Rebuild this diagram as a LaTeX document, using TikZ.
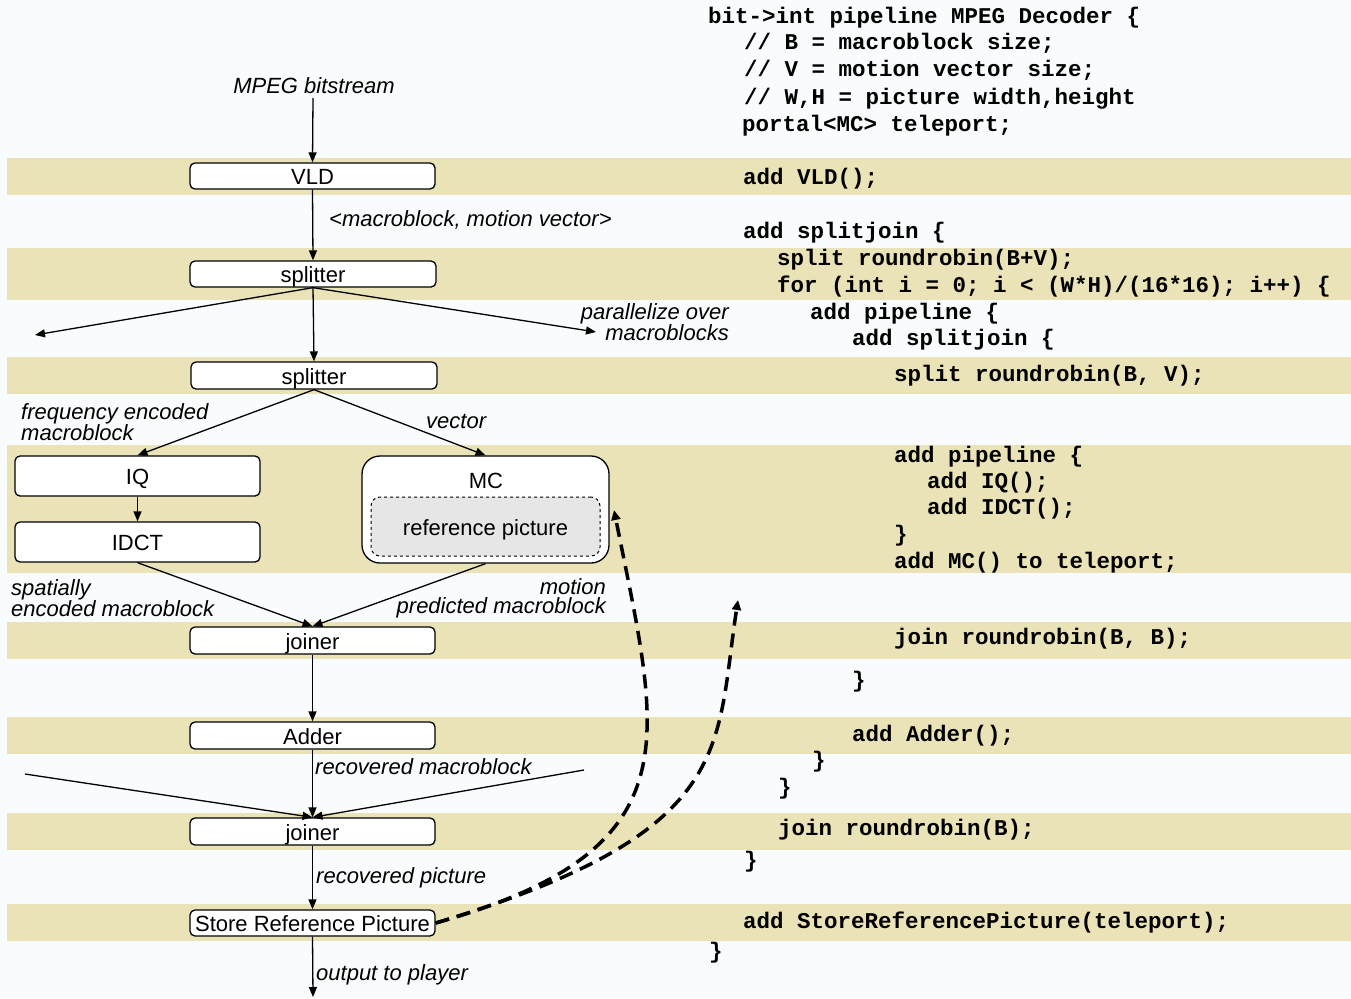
\documentclass[tikz,border=0pt]{standalone}
\usepackage{fontspec}
\setsansfont{Liberation Sans}
\setmonofont{Liberation Mono}
\usetikzlibrary{arrows.meta}
\definecolor{bgc}{RGB}{249,252,253}
\definecolor{band}{RGB}{234,227,184}
\definecolor{refgray}{RGB}{230,230,230}
\tikzset{
  blk/.style={draw, line width=1.3pt, rounded corners=5pt, fill=white, inner sep=0pt,
    minimum width=245pt, minimum height=26pt, text height=19pt, text depth=1.5pt,
    font=\sffamily\fontsize{22}{26}\selectfont},
  lbl/.style={inner sep=0pt, font=\sffamily\itshape\fontsize{22}{19}\selectfont},
  code/.style={inner sep=0pt, anchor=base west, font=\ttfamily\bfseries\fontsize{22.5}{26}\selectfont},
  conn/.style={line width=1.3pt, -{Triangle[length=10pt,width=8pt]}},
  tele/.style={line width=3.5pt, dash pattern=on 14pt off 8pt, -{Triangle[length=10pt,width=9pt]}}
}
\begin{document}
\begin{tikzpicture}[x=1pt,y=-1pt]
\fill[bgc] (0,0) rectangle (1351,998);
\useasboundingbox (0,0) rectangle (1351,998);
% bands
\foreach \a/\b in {158/195,248/300,357/394,445/573,622/659,717/754,813/850,904/941}
  \fill[band] (7,\a) rectangle (1351,\b);
% blocks
\node[blk] (vld) at (312.5,176) {VLD};
\node[blk, minimum width=246pt] (split1) at (313,274) {splitter};
\node[blk, minimum width=246pt, minimum height=27pt] (split2) at (314,375.5) {splitter};
\node[blk, minimum height=40pt] (iq) at (137.5,476) {IQ};
\node[blk, minimum height=40pt] (idct) at (137.5,542) {IDCT};
\node[blk, minimum width=247pt, minimum height=107pt, rounded corners=18pt] (mc) at (485.5,509.5) {};
\node[lbl, font=\sffamily\fontsize{22}{26}\selectfont] (mctext) at (486,481) {MC};
\node[blk, dashed, line width=1pt, fill=refgray, rounded corners=9pt, minimum width=229pt, minimum height=59pt] (ref) at (485.5,526.5) {reference picture};
\node[blk, minimum height=27pt] (join1) at (312.5,640.5) {joiner};
\node[blk, minimum height=27pt] (adder) at (312.5,735.5) {Adder};
\node[blk, minimum height=27pt] (join2) at (312.5,831.5) {joiner};
\node[blk] (store) at (312.5,923) {Store Reference Picture};
% free ends
\coordinate (in) at (313,98);
\coordinate (pl) at (35,335);
\coordinate (pr) at (596,332);
\coordinate (jl) at (25,774);
\coordinate (jr) at (584,770);
\coordinate (out) at (313,997);
\coordinate (mcport) at (614,510);
\coordinate (tport) at (738,600);
% connectors
\draw[conn] (in) -- (vld.north);
\draw[conn] (vld.south) -- (split1.north);
\draw[conn] (split1.south) -- (pl);
\draw[conn] (split1.south) -- (split2.north);
\draw[conn] (split1.south) -- (pr);
\draw[conn] (split2.south) -- (iq.north);
\draw[conn] (split2.south) -- (mc.north);
\draw[conn] (iq.south) -- (idct.north);
\draw[conn] (idct.south) -- (join1.north);
\draw[conn] (mc.south) -- (join1.north);
\draw[conn] (join1.south) -- (adder.north);
\draw[conn] (adder.south) -- (join2.north);
\draw[conn] (jl) -- (join2.north);
\draw[conn] (jr) -- (join2.north);
\draw[conn] (join2.south) -- (store.north);
\draw[conn] (store.south) -- (out);
\draw[tele] (store.east) .. controls (697,849) and (660,740) .. (mcport);
\draw[tele] (store.east) .. controls (737,832) and (715,750) .. (tport);
% labels
\node[lbl] (l1) at (314,86) {MPEG bitstream};
\node[lbl, anchor=west] (l2) at (329,220) {\textless macroblock, motion vector\textgreater};
\node[lbl, anchor=east, align=right] (l3) at (729,322) {parallelize over\\macroblocks};
\node[lbl, anchor=west, align=left] (l4) at (21,422) {frequency encoded\\macroblock};
\node[lbl, anchor=west] (l5) at (426,421) {vector};
\node[lbl, anchor=west, align=left] (l6) at (11,598) {spatially\\encoded macroblock};
\node[lbl, anchor=east, align=right] (l7) at (606,598) {motion\\predicted macroblock};
\node[lbl, anchor=west] (l8) at (315,767) {recovered macroblock};
\node[lbl, anchor=west] (l9) at (316,878) {recovered picture};
\node[lbl, anchor=west] (l10) at (316,975) {output to player};
% code
\node[code] (c1) at (708,24) {bit->int pipeline MPEG Decoder \{};
\node[code] (c2) at (744,50) {// B = macroblock size;};
\node[code] (c3) at (744,77) {// V = motion vector size;};
\node[code] (c4) at (744,104) {// W,H = picture width,height};
\node[code] (c5) at (742,131) {portal<MC> teleport;};
\node[code] (c6) at (743,184) {add VLD();};
\node[code] (c7) at (743,238) {add splitjoin \{};
\node[code] (c8) at (777,265) {split roundrobin(B+V);};
\node[code] (c9) at (777,292) {for (int i = 0; i < (W*H)/(16*16); i++) \{};
\node[code] (c10) at (810,319) {add pipeline \{};
\node[code] (c11) at (852,345) {add splitjoin \{};
\node[code] (c12) at (894,381) {split roundrobin(B, V);};
\node[code] (c13) at (894,462) {add pipeline \{};
\node[code] (c14) at (927,488) {add IQ();};
\node[code] (c15) at (927,514) {add IDCT();};
\node[code] (c16) at (894,541) {\}};
\node[code] (c17) at (894,568) {add MC() to teleport;};
\node[code] (c18) at (894,644) {join roundrobin(B, B);};
\node[code] (c19) at (852,687) {\}};
\node[code] (c20) at (852,741) {add Adder();};
\node[code] (c21) at (812,767) {\}};
\node[code] (c22) at (778,794) {\}};
\node[code] (c23) at (778,835) {join roundrobin(B);};
\node[code] (c24) at (744,867) {\}};
\node[code] (c25) at (743,928) {add StoreReferencePicture(teleport);};
\node[code] (c26) at (709,958) {\}};
\end{tikzpicture}
\end{document}
